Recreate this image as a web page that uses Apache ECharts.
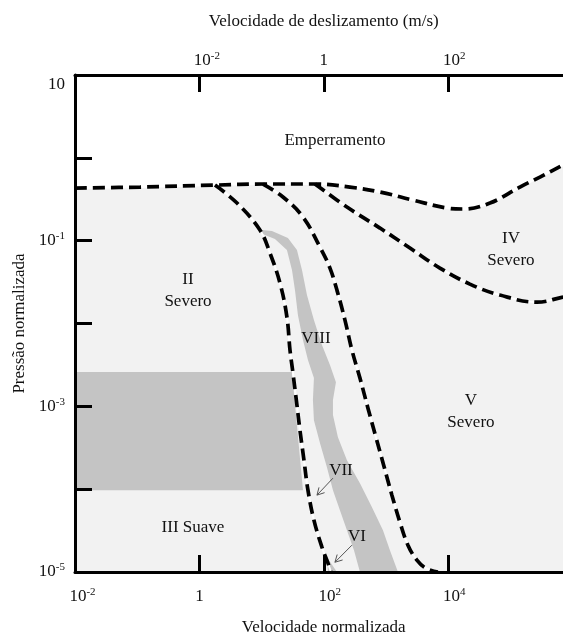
<!DOCTYPE html>
<html><head><meta charset="utf-8">
<script src="https://cdn.jsdelivr.net/npm/echarts@6/dist/echarts.min.js"></script>
<style>html,body{margin:0;padding:0;background:#fff}#c{width:563px;height:635px}</style>
</head><body><div id="c"></div>
<script>
// All points are [log10(velocidade normalizada), log10(pressão normalizada)]
const seizureBoundary = [[-2.00,-0.365],[-0.955,-0.353],[0.251,-0.329],[1.023,-0.316],[1.859,-0.316],[2.421,-0.353],[2.904,-0.413],[3.434,-0.510],[3.981,-0.606],[4.238,-0.618],[4.672,-0.546],[5.154,-0.353],[5.476,-0.232],[5.846,-0.087],[5.990,-0.027]];
const boundaryA = [[0.251,-0.329],[0.605,-0.546],[0.974,-0.872],[1.135,-1.150],[1.296,-1.512],[1.408,-1.923],[1.457,-2.321],[1.505,-2.599],[1.569,-2.986],[1.617,-3.287],[1.682,-3.650],[1.746,-4.012],[1.842,-4.374],[1.971,-4.700],[2.068,-4.894],[2.116,-5.0]];
const boundaryB = [[1.023,-0.316],[1.344,-0.473],[1.666,-0.715],[1.939,-1.077],[2.100,-1.331],[2.212,-1.597],[2.341,-1.959],[2.453,-2.321],[2.582,-2.659],[2.711,-3.022],[2.839,-3.372],[2.968,-3.722],[3.096,-4.072],[3.225,-4.399],[3.354,-4.676],[3.498,-4.857],[3.643,-4.954],[3.836,-5.0]];
const boundaryIV = [[1.859,-0.316],[2.373,-0.594],[2.904,-0.848],[3.386,-1.089],[3.868,-1.331],[4.350,-1.524],[4.833,-1.657],[5.428,-1.742],[5.846,-1.681],[5.990,-1.657]];
const bandVIII = [[0.974,-0.908],[1.215,-0.981],[1.408,-1.114],[1.489,-1.355],[1.537,-1.597],[1.585,-1.899],[1.666,-2.200],[1.746,-2.442],[1.842,-2.659],[1.826,-2.925],[1.842,-3.167],[1.939,-3.444],[2.051,-3.734],[2.148,-4.012],[2.260,-4.254],[2.373,-4.495],[2.486,-4.737],[2.582,-5.0],
  [3.193,-5.0],[3.064,-4.737],[2.952,-4.495],[2.775,-4.217],[2.582,-3.928],[2.373,-3.650],[2.228,-3.372],[2.148,-3.106],[2.148,-2.925],[2.196,-2.708],[2.100,-2.502],[1.971,-2.261],[1.842,-1.959],[1.730,-1.657],[1.650,-1.355],[1.569,-1.114],[1.424,-0.969],[1.167,-0.884],[1.006,-0.872]];
const rectMild = [[-2,-2.587],[1.489,-2.587],[1.666,-4.012],[-2,-4.012]];
const sliverVI = [[2.051,-4.821],[2.212,-5.0],[2.068,-5.0]];
const arrows = [[[2.148,-3.867],[1.891,-4.072]], [[2.453,-4.676],[2.180,-4.882]]];
const regionTexts = ['Emperramento','II\nSevero','VIII','IV\nSevero','V\nSevero','VII','VI','III Suave'];
const regionPos = [[2.180,0.203],[-0.183,-1.597],[1.875,-2.176],[5.010,-1.101],[4.367,-3.058],[2.277,-3.771],[2.534,-4.568],[-0.103,-4.459]];
const xTickExps = [-2,0,2,4], xTickLabels = ['10^-2','1','10^2','10^4'];
const topTickExps = [0,2,4], topTickLabels = ['10^-2','1','10^2'];
const yTickExps = [1,-1,-3,-5], yTickLabels = ['10','10^-1','10^-3','10^-5'];

const FONT = 'Liberation Serif, Times New Roman, serif';
const TXT = '#111';
const base = {fontFamily:FONT, fontSize:17, lineHeight:20, color:TXT};
const rich = {
  b: base,
  bn: Object.assign({}, base, {padding:[0,0,0,15]}),
  bp: Object.assign({}, base, {padding:[0,0,0,12]}),
  bt: Object.assign({}, base, {padding:[20,0,0,0]}),
  s: {fontFamily:FONT, fontSize:11, lineHeight:10, verticalAlign:'top', color:TXT}
};
function toRich(str, isX, isTop){
  const parts = str.split('^');
  if (parts.length === 1) return '{' + (isTop ? 'bt' : 'b') + '|' + parts[0] + '}';
  const st = isX ? (parts[1].indexOf('-') >= 0 ? 'bn' : 'bp') : 'b';
  return '{' + st + '|' + parts[0] + '}{s|' + parts[1] + '}';
}
function mk(exps, labels, isX){
  return function(v){
    const i = exps.indexOf(Math.round(v));
    if (i < 0) return '';
    return toRich(labels[i], isX, !isX && Math.round(v) === 1);
  };
}
const axisLine = {show:true, onZero:false, lineStyle:{color:'#000', width:3}};
const axisTick = {show:true, inside:true, length:17, lineStyle:{color:'#000', width:3}};
const nameStyle = {fontFamily:FONT, fontSize:17, color:TXT};

function polygon(points, color, z){
  return {type:'custom', coordinateSystem:'cartesian2d', z:z, silent:true, data:[[0,0]],
    renderItem:function(p, api){
      return {type:'polygon', shape:{points: points.map(function(q){return api.coord(q);})}, style:{fill:color}};
    }};
}
function boundary(data){
  return [
    {type:'line', data:data, smooth:0.4, symbol:'none', z:3, silent:true, lineStyle:{color:'#fff', width:2}},
    {type:'line', data:data, smooth:0.4, symbol:'none', z:4, silent:true, lineStyle:{color:'#000', width:3.7, type:[12,6], cap:'butt'}}
  ];
}
const series = [
  {type:'line', data:seizureBoundary, smooth:0.4, symbol:'none', z:1, silent:true, lineStyle:{width:0, opacity:0}, areaStyle:{color:'#f2f2f2', opacity:1, origin:'start'}},
  polygon(rectMild, '#c4c4c4', 2),
  polygon(bandVIII, '#c4c4c4', 2),
  polygon(sliverVI, '#c4c4c4', 2)
].concat(boundary(seizureBoundary), boundary(boundaryA), boundary(boundaryB), boundary(boundaryIV));
series.push({type:'custom', coordinateSystem:'cartesian2d', z:5, silent:true, data:arrows.map(function(a){return a[1];}),
  renderItem:function(p, api){
    const ar = arrows[p.dataIndex];
    const a = api.coord(ar[0]), b = api.coord(ar[1]);
    const ang = Math.atan2(b[1]-a[1], b[0]-a[0]), L = 8, w = 0.5;
    const h1 = [b[0]-L*Math.cos(ang-w), b[1]-L*Math.sin(ang-w)];
    const h2 = [b[0]-L*Math.cos(ang+w), b[1]-L*Math.sin(ang+w)];
    return {type:'group', children:[
      {type:'line', shape:{x1:a[0],y1:a[1],x2:b[0],y2:b[1]}, style:{stroke:'#555', lineWidth:1}},
      {type:'polyline', shape:{points:[h1,b,h2]}, style:{stroke:'#555', lineWidth:1, fill:null}}
    ]};
  }});
series.push({type:'custom', coordinateSystem:'cartesian2d', z:6, silent:true, data:regionPos,
  renderItem:function(p, api){
    const c = api.coord(regionPos[p.dataIndex]);
    return {type:'text', x:c[0], y:c[1], style:{text:regionTexts[p.dataIndex], fill:TXT, fontFamily:FONT, fontSize:17, lineHeight:22, align:'center', verticalAlign:'middle'}};
  }});

const chart = echarts.init(document.getElementById('c'), null, {renderer:'canvas'});
chart.setOption({
  animation:false,
  backgroundColor:'#fff',
  grid:{left:75, top:75, width:497.5, height:497, containLabel:false, outerBoundsMode:'none'},
  xAxis:[
    {type:'value', position:'bottom', min:-2, max:6, interval:2, z:10, axisLine:axisLine, axisTick:axisTick, splitLine:{show:false},
      axisLabel:{margin:15, formatter:mk(xTickExps, xTickLabels, true), rich:rich},
      name:'Velocidade normalizada', nameLocation:'middle', nameGap:47, nameTextStyle:nameStyle},
    {type:'value', position:'top', min:-2, max:6, interval:2, z:10, axisLine:axisLine, axisTick:axisTick, splitLine:{show:false},
      axisLabel:{margin:4, formatter:mk(topTickExps, topTickLabels, true), rich:rich},
      name:'Velocidade de deslizamento (m/s)', nameLocation:'middle', nameGap:45, nameTextStyle:nameStyle}
  ],
  yAxis:{type:'value', min:-5, max:1, interval:1, z:10, axisLine:axisLine, axisTick:axisTick, splitLine:{show:false},
    axisLabel:{margin:10, formatter:mk(yTickExps, yTickLabels, false), rich:rich},
    name:'Pressão normalizada', nameLocation:'middle', nameGap:47, nameRotate:90, nameTextStyle:nameStyle},
  series:series
});
</script></body></html>
